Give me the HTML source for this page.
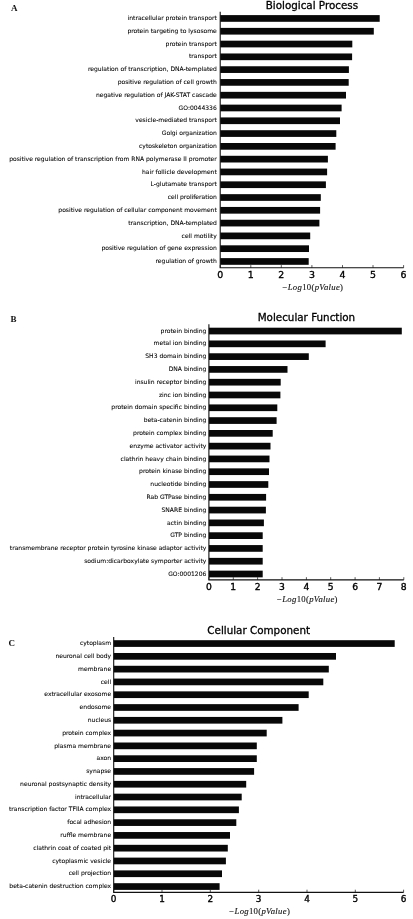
<!DOCTYPE html>
<html lang="en">
<head>
<meta charset="utf-8">
<title>GO enrichment bar charts</title>
<style>
html,body{margin:0;padding:0;background:#fff;}
body{width:413px;height:919px;overflow:hidden;}
svg{display:block;}
.yl{font-family:"DejaVu Sans","Liberation Sans",sans-serif;font-size:6.04px;fill:#000;text-anchor:end;stroke:#000;stroke-width:0.07px;}
.xt{font-family:"DejaVu Sans","Liberation Sans",sans-serif;font-size:9.4px;fill:#000;text-anchor:middle;stroke:#000;stroke-width:0.35px;}
.tt{font-family:"DejaVu Sans","Liberation Sans",sans-serif;font-size:10.35px;fill:#000;text-anchor:middle;stroke:#000;stroke-width:0.3px;}
.pl{font-family:"Liberation Serif","DejaVu Serif",serif;font-weight:bold;font-size:9px;fill:#111;}
.xl{font-family:"Liberation Serif","DejaVu Serif",serif;font-size:8.7px;fill:#111;text-anchor:middle;letter-spacing:0.3px;stroke:#111;stroke-width:0.12px;}
.xl .i{font-style:italic;}
.bar{fill:#080808;}
.ax{stroke:#111;stroke-width:1.1;fill:none;}
.tk{stroke:#111;stroke-width:0.7;fill:none;}
</style>
</head>
<body>
<svg width="413" height="919" viewBox="0 0 413 919">
<rect x="0" y="0" width="413" height="919" fill="#fff"/>
<g>
<text class="pl" x="11.0" y="11.3">A</text>
<text class="tt" x="311.9" y="8.5">Biological Process</text>
<rect class="bar" x="220.2" y="15.10" width="159.5" height="6.7"/><text class="yl" x="216.8" y="20.10">intracellular protein transport</text>
<rect class="bar" x="220.2" y="27.89" width="153.6" height="6.7"/><text class="yl" x="216.8" y="32.89">protein targeting to lysosome</text>
<rect class="bar" x="220.2" y="40.68" width="132.1" height="6.7"/><text class="yl" x="216.8" y="45.68">protein transport</text>
<rect class="bar" x="220.2" y="53.47" width="131.9" height="6.7"/><text class="yl" x="216.8" y="58.47">transport</text>
<rect class="bar" x="220.2" y="66.26" width="128.7" height="6.7"/><text class="yl" x="216.8" y="71.26">regulation of transcription, DNA-templated</text>
<rect class="bar" x="220.2" y="79.05" width="128.5" height="6.7"/><text class="yl" x="216.8" y="84.05">positive regulation of cell growth</text>
<rect class="bar" x="220.2" y="91.84" width="125.8" height="6.7"/><text class="yl" x="216.8" y="96.84">negative regulation of JAK-STAT cascade</text>
<rect class="bar" x="220.2" y="104.63" width="121.4" height="6.7"/><text class="yl" x="216.8" y="109.63">GO:0044336</text>
<rect class="bar" x="220.2" y="117.42" width="119.8" height="6.7"/><text class="yl" x="216.8" y="122.42">vesicle-mediated transport</text>
<rect class="bar" x="220.2" y="130.21" width="116.1" height="6.7"/><text class="yl" x="216.8" y="135.21">Golgi organization</text>
<rect class="bar" x="220.2" y="143.00" width="115.4" height="6.7"/><text class="yl" x="216.8" y="148.00">cytoskeleton organization</text>
<rect class="bar" x="220.2" y="155.79" width="107.7" height="6.7"/><text class="yl" x="216.8" y="160.79">positive regulation of transcription from RNA polymerase II promoter</text>
<rect class="bar" x="220.2" y="168.58" width="106.9" height="6.7"/><text class="yl" x="216.8" y="173.58">hair follicle development</text>
<rect class="bar" x="220.2" y="181.37" width="105.7" height="6.7"/><text class="yl" x="216.8" y="186.37">L-glutamate transport</text>
<rect class="bar" x="220.2" y="194.16" width="100.6" height="6.7"/><text class="yl" x="216.8" y="199.16">cell proliferation</text>
<rect class="bar" x="220.2" y="206.95" width="99.9" height="6.7"/><text class="yl" x="216.8" y="211.95">positive regulation of cellular component movement</text>
<rect class="bar" x="220.2" y="219.74" width="99.2" height="6.7"/><text class="yl" x="216.8" y="224.74">transcription, DNA-templated</text>
<rect class="bar" x="220.2" y="232.53" width="90.0" height="6.7"/><text class="yl" x="216.8" y="237.53">cell motility</text>
<rect class="bar" x="220.2" y="245.32" width="88.8" height="6.7"/><text class="yl" x="216.8" y="250.32">positive regulation of gene expression</text>
<rect class="bar" x="220.2" y="258.11" width="88.5" height="6.7"/><text class="yl" x="216.8" y="263.11">regulation of growth</text>
<path class="ax" d="M220.2 11.8 V267.8 H403.6"/>
<path class="tk" d="M220.2 267.8 v-2.7"/><text class="xt" style="font-size:9.4px" x="220.2" y="277.7">0</text>
<path class="tk" d="M250.8 267.8 v-2.7"/><text class="xt" style="font-size:9.4px" x="250.8" y="277.7">1</text>
<path class="tk" d="M281.3 267.8 v-2.7"/><text class="xt" style="font-size:9.4px" x="281.3" y="277.7">2</text>
<path class="tk" d="M311.9 267.8 v-2.7"/><text class="xt" style="font-size:9.4px" x="311.9" y="277.7">3</text>
<path class="tk" d="M342.5 267.8 v-2.7"/><text class="xt" style="font-size:9.4px" x="342.5" y="277.7">4</text>
<path class="tk" d="M373.0 267.8 v-2.7"/><text class="xt" style="font-size:9.4px" x="373.0" y="277.7">5</text>
<path class="tk" d="M403.6 267.8 v-2.7"/><text class="xt" style="font-size:9.4px" x="403.6" y="277.7">6</text>
<text class="xl" x="312.9" y="290.4">−<tspan class="i">Log</tspan>10(<tspan class="i">pValue</tspan>)</text>
</g>
<g>
<text class="pl" x="10.6" y="321.9">B</text>
<text class="tt" x="306.4" y="320.9">Molecular Function</text>
<rect class="bar" x="208.9" y="327.70" width="192.9" height="6.7"/><text class="yl" x="206.4" y="332.70">protein binding</text>
<rect class="bar" x="208.9" y="340.49" width="116.7" height="6.7"/><text class="yl" x="206.4" y="345.49">metal ion binding</text>
<rect class="bar" x="208.9" y="353.27" width="99.9" height="6.7"/><text class="yl" x="206.4" y="358.27">SH3 domain binding</text>
<rect class="bar" x="208.9" y="366.06" width="78.6" height="6.7"/><text class="yl" x="206.4" y="371.06">DNA binding</text>
<rect class="bar" x="208.9" y="378.85" width="71.8" height="6.7"/><text class="yl" x="206.4" y="383.85">insulin receptor binding</text>
<rect class="bar" x="208.9" y="391.63" width="71.5" height="6.7"/><text class="yl" x="206.4" y="396.63">zinc ion binding</text>
<rect class="bar" x="208.9" y="404.42" width="68.4" height="6.7"/><text class="yl" x="206.4" y="409.42">protein domain specific binding</text>
<rect class="bar" x="208.9" y="417.21" width="67.7" height="6.7"/><text class="yl" x="206.4" y="422.21">beta-catenin binding</text>
<rect class="bar" x="208.9" y="430.00" width="63.8" height="6.7"/><text class="yl" x="206.4" y="435.00">protein complex binding</text>
<rect class="bar" x="208.9" y="442.78" width="61.6" height="6.7"/><text class="yl" x="206.4" y="447.78">enzyme activator activity</text>
<rect class="bar" x="208.9" y="455.57" width="60.6" height="6.7"/><text class="yl" x="206.4" y="460.57">clathrin heavy chain binding</text>
<rect class="bar" x="208.9" y="468.36" width="60.1" height="6.7"/><text class="yl" x="206.4" y="473.36">protein kinase binding</text>
<rect class="bar" x="208.9" y="481.14" width="59.4" height="6.7"/><text class="yl" x="206.4" y="486.14">nucleotide binding</text>
<rect class="bar" x="208.9" y="493.93" width="57.2" height="6.7"/><text class="yl" x="206.4" y="498.93">Rab GTPase binding</text>
<rect class="bar" x="208.9" y="506.72" width="57.0" height="6.7"/><text class="yl" x="206.4" y="511.72">SNARE binding</text>
<rect class="bar" x="208.9" y="519.50" width="55.0" height="6.7"/><text class="yl" x="206.4" y="524.50">actin binding</text>
<rect class="bar" x="208.9" y="532.29" width="53.8" height="6.7"/><text class="yl" x="206.4" y="537.29">GTP binding</text>
<rect class="bar" x="208.9" y="545.08" width="53.8" height="6.7"/><text class="yl" x="206.4" y="550.08">transmembrane receptor protein tyrosine kinase adaptor activity</text>
<rect class="bar" x="208.9" y="557.87" width="53.8" height="6.7"/><text class="yl" x="206.4" y="562.87">sodium:dicarboxylate symporter activity</text>
<rect class="bar" x="208.9" y="570.65" width="53.8" height="6.7"/><text class="yl" x="206.4" y="575.65">GO:0001206</text>
<path class="ax" d="M208.9 324.2 V579.9 H403.8"/>
<path class="tk" d="M208.9 579.9 v-2.7"/><text class="xt" style="font-size:9.2px" x="208.9" y="589.8">0</text>
<path class="tk" d="M233.3 579.9 v-2.7"/><text class="xt" style="font-size:9.2px" x="233.3" y="589.8">1</text>
<path class="tk" d="M257.6 579.9 v-2.7"/><text class="xt" style="font-size:9.2px" x="257.6" y="589.8">2</text>
<path class="tk" d="M282.0 579.9 v-2.7"/><text class="xt" style="font-size:9.2px" x="282.0" y="589.8">3</text>
<path class="tk" d="M306.4 579.9 v-2.7"/><text class="xt" style="font-size:9.2px" x="306.4" y="589.8">4</text>
<path class="tk" d="M330.7 579.9 v-2.7"/><text class="xt" style="font-size:9.2px" x="330.7" y="589.8">5</text>
<path class="tk" d="M355.1 579.9 v-2.7"/><text class="xt" style="font-size:9.2px" x="355.1" y="589.8">6</text>
<path class="tk" d="M379.4 579.9 v-2.7"/><text class="xt" style="font-size:9.2px" x="379.4" y="589.8">7</text>
<path class="tk" d="M403.8 579.9 v-2.7"/><text class="xt" style="font-size:9.2px" x="403.8" y="589.8">8</text>
<text class="xl" x="307.4" y="602.4">−<tspan class="i">Log</tspan>10(<tspan class="i">pValue</tspan>)</text>
</g>
<g>
<text class="pl" x="8.6" y="646.3">C</text>
<text class="tt" x="258.7" y="633.7">Cellular Component</text>
<rect class="bar" x="113.7" y="640.20" width="281.0" height="6.7"/><text class="yl" x="111.1" y="645.20">cytoplasm</text>
<rect class="bar" x="113.7" y="652.99" width="222.3" height="6.7"/><text class="yl" x="111.1" y="657.99">neuronal cell body</text>
<rect class="bar" x="113.7" y="665.78" width="215.1" height="6.7"/><text class="yl" x="111.1" y="670.78">membrane</text>
<rect class="bar" x="113.7" y="678.57" width="209.6" height="6.7"/><text class="yl" x="111.1" y="683.57">cell</text>
<rect class="bar" x="113.7" y="691.36" width="195.0" height="6.7"/><text class="yl" x="111.1" y="696.36">extracellular exosome</text>
<rect class="bar" x="113.7" y="704.14" width="184.9" height="6.7"/><text class="yl" x="111.1" y="709.14">endosome</text>
<rect class="bar" x="113.7" y="716.93" width="168.7" height="6.7"/><text class="yl" x="111.1" y="721.93">nucleus</text>
<rect class="bar" x="113.7" y="729.72" width="153.0" height="6.7"/><text class="yl" x="111.1" y="734.72">protein complex</text>
<rect class="bar" x="113.7" y="742.51" width="143.1" height="6.7"/><text class="yl" x="111.1" y="747.51">plasma membrane</text>
<rect class="bar" x="113.7" y="755.30" width="143.1" height="6.7"/><text class="yl" x="111.1" y="760.30">axon</text>
<rect class="bar" x="113.7" y="768.09" width="140.4" height="6.7"/><text class="yl" x="111.1" y="773.09">synapse</text>
<rect class="bar" x="113.7" y="780.88" width="132.5" height="6.7"/><text class="yl" x="111.1" y="785.88">neuronal postsynaptic density</text>
<rect class="bar" x="113.7" y="793.67" width="128.0" height="6.7"/><text class="yl" x="111.1" y="798.67">intracellular</text>
<rect class="bar" x="113.7" y="806.46" width="125.2" height="6.7"/><text class="yl" x="111.1" y="811.46">transcription factor TFIIA complex</text>
<rect class="bar" x="113.7" y="819.25" width="122.6" height="6.7"/><text class="yl" x="111.1" y="824.25">focal adhesion</text>
<rect class="bar" x="113.7" y="832.03" width="116.3" height="6.7"/><text class="yl" x="111.1" y="837.03">ruffle membrane</text>
<rect class="bar" x="113.7" y="844.82" width="114.1" height="6.7"/><text class="yl" x="111.1" y="849.82">clathrin coat of coated pit</text>
<rect class="bar" x="113.7" y="857.61" width="112.2" height="6.7"/><text class="yl" x="111.1" y="862.61">cytoplasmic vesicle</text>
<rect class="bar" x="113.7" y="870.40" width="108.3" height="6.7"/><text class="yl" x="111.1" y="875.40">cell projection</text>
<rect class="bar" x="113.7" y="883.19" width="105.9" height="6.7"/><text class="yl" x="111.1" y="888.19">beta-catenin destruction complex</text>
<path class="ax" d="M113.7 637.0 V892.4 H403.6"/>
<path class="tk" d="M113.7 892.4 v-2.7"/><text class="xt" style="font-size:8.9px" x="113.7" y="902.4">0</text>
<path class="tk" d="M162.0 892.4 v-2.7"/><text class="xt" style="font-size:8.9px" x="162.0" y="902.4">1</text>
<path class="tk" d="M210.3 892.4 v-2.7"/><text class="xt" style="font-size:8.9px" x="210.3" y="902.4">2</text>
<path class="tk" d="M258.7 892.4 v-2.7"/><text class="xt" style="font-size:8.9px" x="258.7" y="902.4">3</text>
<path class="tk" d="M307.0 892.4 v-2.7"/><text class="xt" style="font-size:8.9px" x="307.0" y="902.4">4</text>
<path class="tk" d="M355.3 892.4 v-2.7"/><text class="xt" style="font-size:8.9px" x="355.3" y="902.4">5</text>
<path class="tk" d="M403.6 892.4 v-2.7"/><text class="xt" style="font-size:8.9px" x="403.6" y="902.4">6</text>
<text class="xl" x="259.7" y="914.2">−<tspan class="i">Log</tspan>10(<tspan class="i">pValue</tspan>)</text>
</g>
</svg>
</body>
</html>
